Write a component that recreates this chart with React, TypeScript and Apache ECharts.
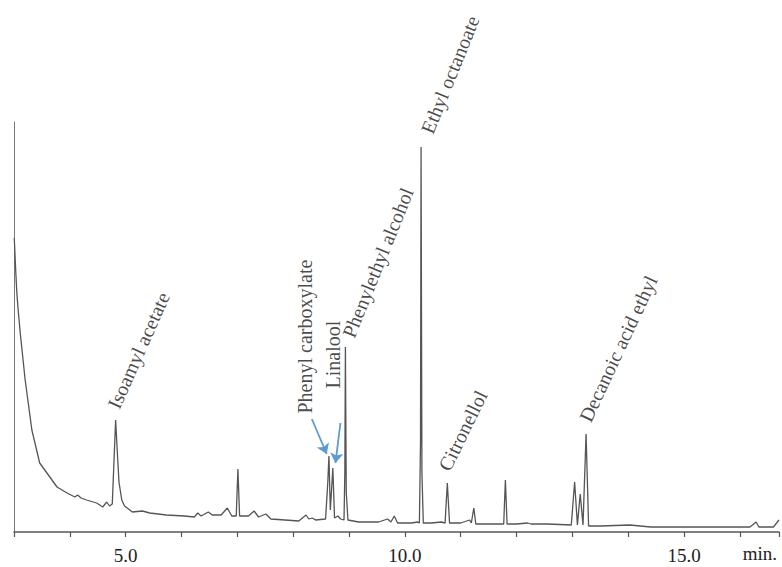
import React, { useEffect, useRef } from 'react';
import * as echarts from 'echarts';

const FONT = '"Liberation Serif", "Times New Roman", serif';

// Chromatogram trace: retention time (min) and detector response (arbitrary units)
const traceTime = [
  3.005, 3.03, 3.05, 3.07, 3.11, 3.2, 3.32, 3.46, 3.59, 3.77, 3.95, 4.09, 4.14, 4.2, 4.3, 4.48, 4.59, 4.66, 4.71, 4.76,
  4.79, 4.82, 4.85, 4.88, 4.93, 4.98, 5.12, 5.3, 5.43, 5.73, 6.05, 6.23, 6.29, 6.35, 6.48, 6.55, 6.71, 6.82, 6.9, 6.98,
  7.01, 7.04, 7.2, 7.3, 7.38, 7.51, 7.6, 8.1, 8.23, 8.28, 8.34, 8.4, 8.58, 8.62, 8.64, 8.665, 8.69, 8.71, 8.74, 8.8,
  8.85, 8.91, 8.925, 8.935, 8.95, 8.98, 9.17, 9.53, 9.69, 9.75, 9.81, 9.87, 10.12, 10.23, 10.26, 10.28, 10.29, 10.305, 10.33, 10.48,
  10.65, 10.72, 10.76, 10.8, 11.0, 11.16, 11.19, 11.235, 11.27, 11.45, 11.77, 11.8, 11.83, 12.0, 12.2, 12.26, 12.56, 12.98, 13.04, 13.09,
  13.14, 13.19, 13.245, 13.29, 13.51, 14.03, 14.4, 15.0, 15.6, 16.18, 16.29, 16.34, 16.6, 16.7,
];
const traceIntensity = [
  294, 262, 240, 225, 200, 152, 102, 69, 59, 45, 39, 35, 37, 34, 32, 29, 25, 30, 26, 28,
  70, 112, 80, 50, 32, 26, 20, 21, 19, 17, 16, 15, 19, 16, 20, 17, 17, 24, 16, 16,
  63, 16, 16, 21, 15, 18, 13, 11, 17, 13, 14, 12, 13, 50, 76, 22, 45, 64, 14, 16,
  13, 12, 60, 185, 40, 12, 10, 10, 13, 10, 16, 9, 9, 10, 9, 90, 385, 60, 9, 9,
  10, 9, 49, 9, 9, 12, 9, 24, 8, 8, 8, 52, 8, 8, 9, 8, 8, 7, 50, 7,
  38, 7, 98, 6, 6, 7, 5, 5, 5, 5, 10, 5, 5, 12,
];

// Annotated compounds (peak apex)
const peakNames = [
  'Isoamyl acetate',
  'Phenyl carboxylate',
  'Linalool',
  'Phenylethyl alcohol',
  'Ethyl octanoate',
  'Citronellol',
  'Decanoic acid ethyl',
];
const peakTimes = [4.82, 8.64, 8.71, 8.935, 10.29, 10.76, 13.245];
const peakHeights = [112, 76, 64, 185, 385, 49, 98];

// Arrows pointing from labels to the two close peaks
const arrowFrom = [[8.334, 113], [8.846, 109]];
const arrowTo = [[8.601, 78], [8.757, 69]];

const labeledTicks = [5, 10, 15];

// label styling: rotation (deg) and pixel offset of the label anchor from the apex
const labelStyle = [
  { rotate: 66, dx: -2, dy: -12 },
  { rotate: 90, dx: -23, dy: -42 },
  { rotate: 90, dx: 1, dy: -79 },
  { rotate: 68, dx: 3, dy: -10 },
  { rotate: 68, dx: 6, dy: -14 },
  { rotate: 64, dx: -3, dy: -13 },
  { rotate: 65, dx: -1, dy: -13 },
];

export default function App() {
  const ref = useRef<HTMLDivElement>(null);

  useEffect(() => {
    if (!ref.current) return;
    const chart = echarts.init(ref.current, undefined, { renderer: 'svg' });

    const option = {
      animation: false,
      backgroundColor: '#ffffff',
      grid: { left: 14, right: 0, top: 122, bottom: 35, containLabel: false },
      xAxis: {
        type: 'value',
        min: 3,
        max: 16.7,
        interval: 1,
        axisLine: { show: true, onZero: false, lineStyle: { color: '#555', width: 1.5 } },
        axisTick: { show: true, length: 5, lineStyle: { color: '#555', width: 1.2 } },
        splitLine: { show: false },
        axisLabel: {
          interval: 0,
          margin: 14,
          color: '#222',
          fontFamily: FONT,
          fontSize: 19,
          showMinLabel: true,
          showMaxLabel: true,
          formatter: (v: number) =>
            labeledTicks.some((t) => Math.abs(t - v) < 1e-6) ? v.toFixed(1) : '',
        },
      },
      yAxis: {
        type: 'value',
        min: 0,
        max: 410,
        axisLine: { show: true, lineStyle: { color: '#777', width: 1 } },
        axisTick: { show: false },
        axisLabel: { show: false },
        splitLine: { show: false },
      },
      graphic: [
        {
          type: 'text',
          right: 5,
          top: 544,
          style: { text: 'min.', font: `19px ${FONT}`, fill: '#222' },
        },
      ],
      series: [
        {
          type: 'line',
          data: traceTime.map((t, i) => [t, traceIntensity[i]]),
          symbol: 'none',
          showSymbol: false,
          silent: true,
          lineStyle: { color: '#555', width: 1.3 },
          markLine: {
            silent: true,
            symbol: ['none', 'arrow'],
            symbolSize: 10,
            label: { show: false },
            lineStyle: { color: '#5b9bd5', width: 1.8, type: 'solid' },
            itemStyle: { color: '#5b9bd5' },
            data: arrowFrom.map((f, i) => [{ coord: f }, { coord: arrowTo[i] }]),
          },
        },
        {
          type: 'scatter',
          silent: true,
          symbolSize: 1,
          itemStyle: { color: 'rgba(0,0,0,0)' },
          data: peakNames.map((name, i) => ({
            name,
            value: [peakTimes[i], peakHeights[i]],
            label: {
              show: true,
              formatter: name,
              position: [labelStyle[i].dx, labelStyle[i].dy],
              rotate: labelStyle[i].rotate,
              align: 'left',
              verticalAlign: 'middle',
              fontFamily: FONT,
              fontSize: 20,
              color: '#1a1a1a',
            },
          })),
        },
      ],
    };

    chart.setOption(option as any);
    return () => chart.dispose();
  }, []);

  return (
    <div
      ref={ref}
      style={{ position: 'fixed', left: 0, top: 0, width: 782, height: 567, background: '#fff' }}
    />
  );
}
